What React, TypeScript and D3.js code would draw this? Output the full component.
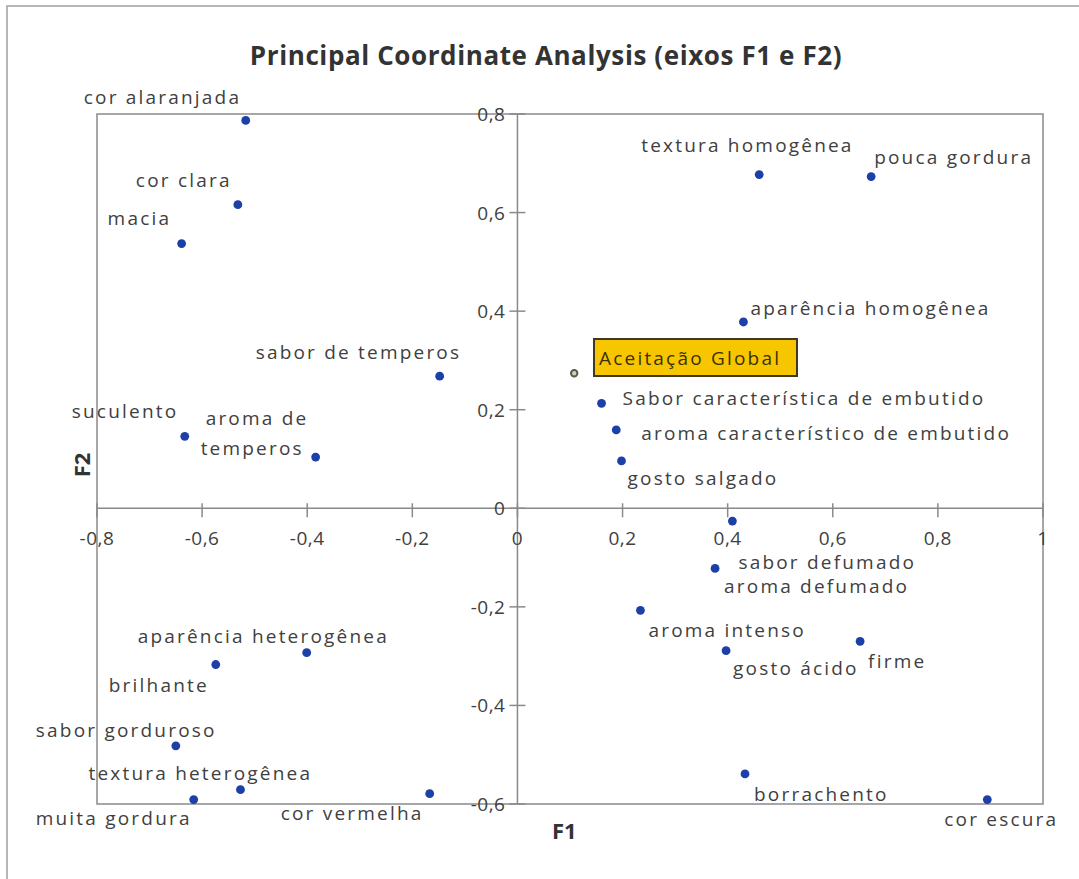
import React from "react";
import * as d3 from "d3";

// ---- data ----
const names: string[] = [
  "cor alaranjada", "cor clara", "macia", "sabor de temperos", "suculento", "aroma de temperos",
  "textura homogênea", "pouca gordura", "aparência homogênea",
  "Sabor característica de embutido", "aroma característico de embutido", "gosto salgado",
  "sabor defumado", "aroma defumado", "aroma intenso", "gosto ácido", "firme", "borrachento", "cor escura",
  "aparência heterogênea", "brilhante", "sabor gorduroso", "textura heterogênea", "muita gordura", "cor vermelha",
];
const f1: number[] = [
  -0.517, -0.532, -0.639, -0.148, -0.633, -0.384,
  0.460, 0.673, 0.430,
  0.160, 0.188, 0.198,
  0.409, 0.376, 0.234, 0.397, 0.652, 0.433, 0.894,
  -0.401, -0.574, -0.650, -0.527, -0.616, -0.167,
];
const f2: number[] = [
  0.787, 0.616, 0.537, 0.268, 0.146, 0.104,
  0.677, 0.673, 0.378,
  0.213, 0.159, 0.096,
  -0.026, -0.122, -0.207, -0.289, -0.270, -0.539, -0.591,
  -0.293, -0.317, -0.482, -0.571, -0.591, -0.579,
];
const supName = "Aceitação Global";
const supF1 = 0.108;
const supF2 = 0.274;

const xTicks: number[] = [-0.8, -0.6, -0.4, -0.2, 0, 0.2, 0.4, 0.6, 0.8, 1];
const yTicks: number[] = [-0.6, -0.4, -0.2, 0, 0.2, 0.4, 0.6, 0.8];
const title = "Principal Coordinate Analysis (eixos F1 e F2)";

// ---- layout (label offsets from point, px; left edge and vertical centre) ----
const labelOffsets: Record<string, [number, number]> = {
  "cor alaranjada": [-162, -23],
  "cor clara": [-102, -25],
  "macia": [-74, -26],
  "sabor de temperos": [-184, -24],
  "suculento": [-113, -25],
  "textura homogênea": [-118, -30],
  "pouca gordura": [3, -20],
  "aparência homogênea": [7, -14],
  "Sabor característica de embutido": [21, -5],
  "aroma característico de embutido": [25, 3],
  "gosto salgado": [6, 17],
  "sabor defumado": [6, 41],
  "aroma defumado": [9, 18],
  "aroma intenso": [8, 20],
  "gosto ácido": [7, 17],
  "firme": [8, 20],
  "borrachento": [9, 20],
  "cor escura": [-43, 19],
  "aparência heterogênea": [-169, -17],
  "brilhante": [-107, 20],
  "sabor gorduroso": [-140, -16],
  "textura heterogênea": [-152, -17],
  "muita gordura": [-158, 18],
  "cor vermelha": [-149, 19],
};

const fmt = (v: number) => (Math.abs(v) < 1e-9 ? "0" : String(+v.toFixed(1)).replace(".", ","));

export default function App() {
  const W = 1079, H = 879;
  const x = d3.scaleLinear().domain([-0.8, 1]).range([97, 1043]);
  const y = d3.scaleLinear().domain([-0.6, 0.8]).range([804, 114]);
  const x0 = x(0), y0 = y(0);
  const txt = "#404040";
  const axisCol = "#8a8a8a";
  const font = "'Open Sans', sans-serif";
  const lblStyle: React.CSSProperties = { fontFamily: font, fontSize: 19, letterSpacing: 2.2, fill: txt };

  return (
    <svg width={W} height={H} style={{ position: "absolute", left: 0, top: 0, background: "#fff" }}>
      <rect x={0} y={0} width={W} height={H} fill="#fff" />
      <rect x={7} y={6} width={W + 20} height={H + 20} fill="none" stroke="#a0a0a0" strokeWidth={1.5} />
      <text x={546} y={55} textAnchor="middle" dominantBaseline="central"
        style={{ fontFamily: font, fontSize: 26, fontWeight: 700, letterSpacing: 0.6, fill: "#333" }}>{title}</text>

      {/* plot frame */}
      <rect x={x(-0.8)} y={y(0.8)} width={x(1) - x(-0.8)} height={y(-0.6) - y(0.8)} fill="none" stroke={axisCol} strokeWidth={1.5} />
      {/* axes */}
      <line x1={x(-0.8)} x2={x(1)} y1={y0} y2={y0} stroke={axisCol} strokeWidth={1.5} />
      <line x1={x0} x2={x0} y1={y(0.8)} y2={y(-0.6)} stroke={axisCol} strokeWidth={1.5} />
      {xTicks.map((t) => (
        <g key={"xt" + t}>
          <line x1={x(t)} x2={x(t)} y1={y0 - 5} y2={y0 + 9} stroke={axisCol} strokeWidth={1.5} />
          <text x={x(t)} y={y0 + 30} textAnchor="middle" dominantBaseline="central"
            style={{ fontFamily: font, fontSize: 19, fill: txt, letterSpacing: 0.5 }}>{fmt(t)}</text>
        </g>
      ))}
      {yTicks.map((t) => (
        <g key={"yt" + t}>
          <line x1={x0 - 8} x2={x0 + 8} y1={y(t)} y2={y(t)} stroke={axisCol} strokeWidth={1.5} />
          <text x={x0 - 12} y={y(t)} textAnchor="end" dominantBaseline="central"
            style={{ fontFamily: font, fontSize: 19, fill: txt, letterSpacing: 0.5 }}>{fmt(t)}</text>
        </g>
      ))}
      <text x={552} y={830} dominantBaseline="central"
        style={{ fontFamily: font, fontSize: 22, fontWeight: 700, fill: "#333" }}>F1</text>
      <text transform={`translate(81,465) rotate(-90)`} textAnchor="middle" dominantBaseline="central"
        style={{ fontFamily: font, fontSize: 22, fontWeight: 700, fill: "#333" }}>F2</text>

      {/* active points */}
      {names.map((n, i) => (
        <circle key={"p" + n} cx={x(f1[i])} cy={y(f2[i])} r={4.4} fill="#1c3fa8" />
      ))}
      {names.map((n, i) => {
        const px = x(f1[i]), py = y(f2[i]);
        if (n === "aroma de temperos") {
          return (
            <text key={"l" + n} style={lblStyle} dominantBaseline="central">
              <tspan x={px - 110} y={py - 39}>aroma de</tspan>
              <tspan x={px - 115} y={py - 9}>temperos</tspan>
            </text>
          );
        }
        const [dx, dy] = labelOffsets[n];
        return (
          <text key={"l" + n} x={px + dx} y={py + dy} dominantBaseline="central" style={lblStyle}>{n}</text>
        );
      })}

      {/* supplementary variable */}
      <circle cx={x(supF1)} cy={y(supF2)} r={3.2} fill="#cfcfbf" stroke="#5a5a4a" strokeWidth={2} />
      <rect x={594} y={339} width={203} height={37} fill="#f7c600" stroke="#3d3a20" strokeWidth={2} />
      <text x={599} y={357.5} dominantBaseline="central"
        style={{ fontFamily: font, fontSize: 19, letterSpacing: 2.2, fill: "#3a3200" }}>{supName}</text>
    </svg>
  );
}
